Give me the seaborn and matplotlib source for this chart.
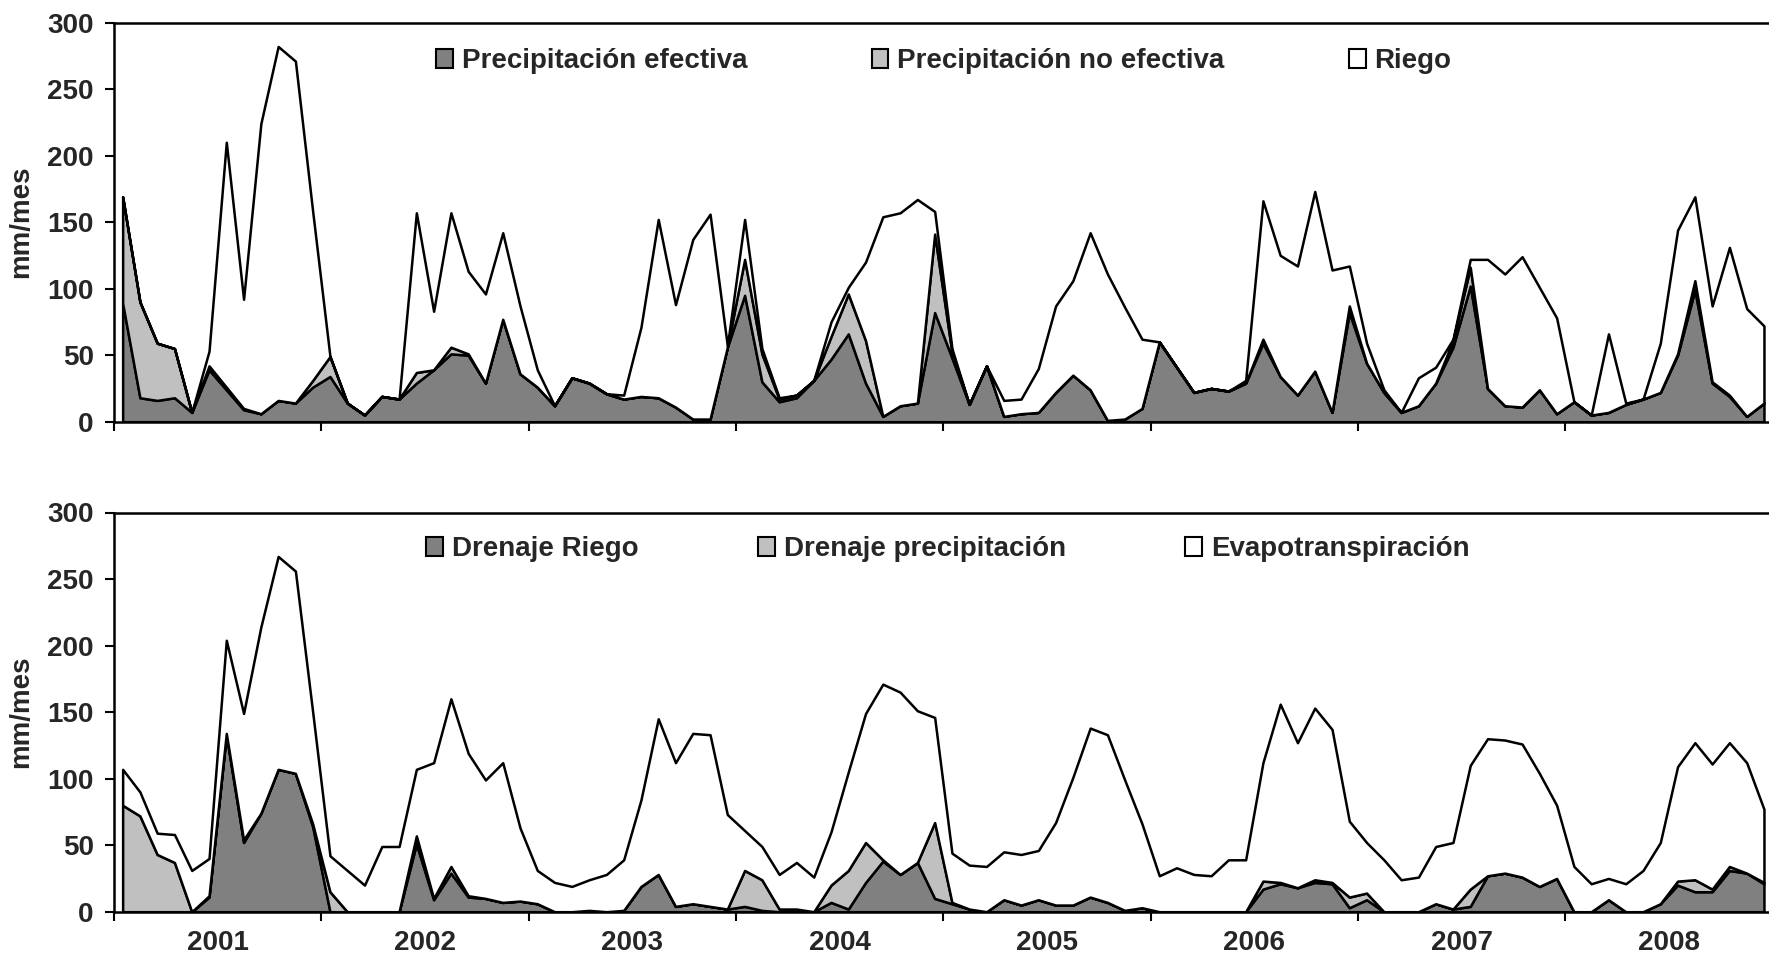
import numpy as np
import pandas as pd
import matplotlib
matplotlib.use('Agg')
import matplotlib.pyplot as plt
from matplotlib.patches import Patch
import seaborn as sns

# Balance hidrico mensual (mm/mes), 96 meses
anios = ['2001', '2002', '2003', '2004', '2005', '2006', '2007', '2008']

precip_efectiva = [89, 18, 16, 18, 7, 39, 24, 9, 6, 16, 14, 26,
                   34, 14, 5, 19, 17, 29, 39, 51, 50, 29, 77, 36,
                   26, 12, 33, 29, 21, 17, 19, 18, 11, 2, 2, 56,
                   95, 30, 15, 18, 31, 47, 66, 29, 4, 12, 14, 82,
                   48, 13, 42, 4, 6, 7, 22, 35, 24, 1, 2, 10,
                   60, 41, 22, 25, 23, 29, 59, 34, 20, 38, 7, 82,
                   44, 22, 7, 12, 29, 56, 102, 25, 12, 11, 24, 6,
                   15, 5, 7, 13, 17, 22, 50, 99, 29, 19, 4, 14]
precip_no_efectiva = [80, 72, 43, 37, 0, 3, 2, 1, 0, 0, 0, 5,
                      15, 0, 0, 0, 0, 8, 0, 5, 1, 0, 0, 0,
                      0, 0, 0, 0, 0, 0, 0, 0, 0, 0, 0, 0,
                      27, 21, 2, 2, 0, 17, 30, 32, 0, 0, 0, 59,
                      4, 0, 0, 0, 0, 0, 0, 0, 0, 0, 0, 0,
                      0, 0, 0, 0, 0, 0, 3, 0, 0, 0, 0, 5,
                      0, 0, 0, 0, 0, 5, 14, 0, 0, 0, 0, 0,
                      0, 0, 0, 0, 0, 0, 1, 7, 1, 1, 0, 0]
riego = [0, 0, 0, 0, 0, 11, 184, 82, 218, 266, 257, 127,
         0, 0, 0, 0, 0, 120, 44, 101, 62, 67, 65, 51,
         13, 0, 0, 0, 0, 3, 52, 134, 77, 135, 154, 1,
         30, 4, 1, 0, 0, 11, 5, 59, 150, 145, 153, 17,
         3, 0, 0, 12, 11, 33, 65, 71, 118, 110, 84, 52,
         0, 0, 0, 0, 0, 2, 104, 91, 97, 135, 107, 30,
         15, 2, 0, 21, 12, 1, 6, 97, 99, 113, 77, 72,
         0, 0, 59, 1, 0, 37, 93, 63, 57, 111, 81, 58]

drenaje_riego = [0, 0, 0, 0, 0, 11, 133, 52, 74, 107, 104, 64,
                 0, 0, 0, 0, 0, 51, 9, 29, 11, 10, 7, 8,
                 6, 0, 0, 1, 0, 1, 19, 28, 4, 6, 4, 2,
                 4, 1, 0, 0, 0, 7, 2, 22, 38, 28, 37, 10,
                 6, 2, 0, 9, 5, 9, 5, 5, 11, 7, 1, 3,
                 0, 0, 0, 0, 0, 0, 17, 21, 18, 22, 21, 3,
                 9, 0, 0, 0, 6, 2, 4, 27, 29, 26, 19, 25,
                 0, 0, 9, 0, 0, 6, 20, 15, 15, 31, 29, 21]
drenaje_precip = [80, 72, 43, 37, 0, 1, 1, 2, 0, 0, 0, 2,
                  15, 0, 0, 0, 0, 6, 1, 5, 1, 0, 0, 0,
                  0, 0, 0, 0, 0, 0, 0, 0, 0, 0, 0, 0,
                  27, 23, 2, 2, 0, 13, 29, 30, 1, 0, 0, 57,
                  1, 0, 0, 0, 0, 0, 0, 0, 0, 0, 0, 0,
                  0, 0, 0, 0, 0, 0, 6, 1, 0, 2, 1, 8,
                  5, 0, 0, 0, 0, 0, 13, 0, 0, 0, 0, 0,
                  0, 0, 0, 0, 0, 0, 3, 9, 2, 3, 0, 1]
evapotranspiracion = [27, 18, 16, 21, 31, 28, 70, 95, 140, 160, 152, 84,
                      27, 31, 20, 49, 49, 50, 102, 126, 107, 89, 105, 55,
                      25, 22, 19, 23, 28, 38, 65, 117, 108, 128, 129, 71,
                      30, 25, 26, 35, 26, 40, 74, 97, 132, 137, 114, 79,
                      37, 33, 34, 36, 38, 37, 62, 96, 127, 126, 98, 63,
                      27, 33, 28, 27, 39, 39, 89, 134, 109, 129, 115, 57,
                      38, 39, 24, 26, 43, 50, 93, 103, 100, 100, 85, 55,
                      34, 21, 16, 21, 31, 46, 86, 103, 94, 93, 83, 55]

df = pd.DataFrame({'mes': np.arange(len(riego)) + 0.5,
                   'Precipitación efectiva': precip_efectiva,
                   'Precipitación no efectiva': precip_no_efectiva,
                   'Riego': riego,
                   'Drenaje Riego': drenaje_riego,
                   'Drenaje precipitación': drenaje_precip,
                   'Evapotranspiración': evapotranspiracion})

sns.set_theme(style='white')
plt.rcParams['font.family'] = ['Liberation Sans', 'DejaVu Sans']
plt.rcParams['font.weight'] = 'bold'

colores = ['#808080', '#c0c0c0', '#ffffff']
fs = 20

fig = plt.figure(figsize=(17.69, 9.56), dpi=100)
ax1 = fig.add_axes([114 / 1769, 1 - 421.7 / 956, 1658.6 / 1769, 399.2 / 956])
ax2 = fig.add_axes([114 / 1769, 1 - 911.7 / 956, 1658.6 / 1769, 399.2 / 956])

paneles = [(ax1, ['Precipitación efectiva', 'Precipitación no efectiva', 'Riego'], 4.47, 436, 61),
           (ax2, ['Drenaje Riego', 'Drenaje precipitación', 'Evapotranspiración'], 4.3, 426, 549)]

for ax, series, colsp, leg_x, leg_y in paneles:
    ax.stackplot(df['mes'], *[df[s] for s in series], colors=colores,
                 edgecolor='black', linewidth=1.8)
    ax.set_xlim(0, 96)
    ax.set_ylim(0, 300)
    ax.set_yticks(range(0, 301, 50))
    ax.set_xticks(range(0, 97, 12))
    ax.set_xticklabels([])
    ax.set_xticks(np.arange(6, 96, 12), minor=True)
    ax.tick_params(axis='both', which='major', direction='out', length=6.5, width=1.5,
                   color='black', labelsize=fs, pad=8, left=True, bottom=True)
    ax.tick_params(axis='x', which='minor', length=0, pad=13, labelsize=fs)
    for sp in ax.spines.values():
        sp.set_color('black')
        sp.set_linewidth(1.8)
    ax.set_ylabel('mm/mes', fontsize=fs, fontweight='bold')
    ax.yaxis.set_label_coords(-0.048, 0.5)
    ax.grid(False)
    handles = [Patch(facecolor=c, edgecolor='black', linewidth=1.5) for c in colores]
    ax.legend(handles, series, ncol=3, frameon=False,
              loc='center left', bbox_to_anchor=(leg_x / 1769, 1 - leg_y / 956),
              bbox_transform=fig.transFigure, borderpad=0, borderaxespad=0,
              handlelength=0.61, handleheight=0.68, handletextpad=0.32,
              columnspacing=colsp, prop={'weight': 'bold', 'size': fs})

ax2.set_xticklabels(anios, minor=True, fontweight='bold')

fig.savefig('out.png', dpi=100)
